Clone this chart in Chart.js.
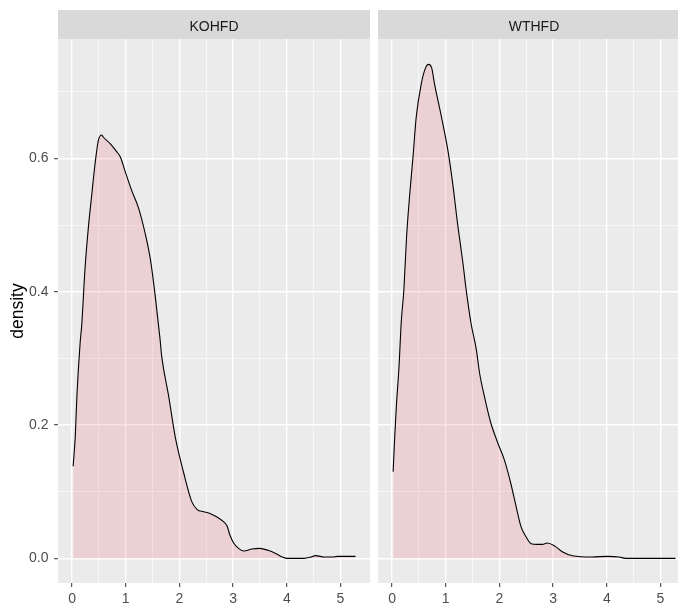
<!DOCTYPE html>
<html>
<head>
<meta charset="utf-8">
<script src="https://cdn.jsdelivr.net/npm/chart.js@4.4.1/dist/chart.umd.min.js"></script>
<style>
  html, body { margin: 0; padding: 0; background: #fff; overflow: hidden; width: 678px; height: 606px; }
  canvas { position: absolute; top: 0; }
  #koChart { left: 0; }
  #wtChart { left: 370px; }
</style>
</head>
<body>
<canvas id="koChart" width="370" height="606"></canvas>
<canvas id="wtChart" width="320" height="606"></canvas>
<script>
// facet labels
const panels = ['KOHFD', 'WTHFD'];

// KOHFD density curve
const koX = [0.02, 0.06, 0.09, 0.15, 0.18, 0.24, 0.30, 0.37, 0.43, 0.49, 0.55, 0.58, 0.71, 0.83, 0.90, 0.99,
  1.11, 1.24, 1.36, 1.46, 1.55, 1.64, 1.67, 1.80, 1.92, 2.08, 2.23, 2.33, 2.45, 2.58, 2.70, 2.82, 2.89,
  2.94, 3.01, 3.10, 3.20, 3.35, 3.50, 3.65, 3.80, 3.92, 4.01, 4.32, 4.45, 4.53, 4.62, 4.68, 4.85, 4.94, 5.28];
const koY = [0.138, 0.183, 0.243, 0.323, 0.350, 0.433, 0.493, 0.548, 0.593, 0.627, 0.635, 0.632, 0.622, 0.610, 0.602, 0.580,
  0.552, 0.525, 0.488, 0.448, 0.393, 0.328, 0.303, 0.243, 0.183, 0.128, 0.085, 0.073, 0.070, 0.067, 0.062, 0.055, 0.048,
  0.035, 0.023, 0.015, 0.011, 0.014, 0.015, 0.012, 0.007, 0.002, 0.000, 0.000, 0.002, 0.004, 0.003, 0.002, 0.002, 0.003, 0.003];

// WTHFD density curve
const wtX = [0.02, 0.05, 0.08, 0.13, 0.17, 0.22, 0.27, 0.33, 0.39, 0.45, 0.545, 0.62, 0.68, 0.74, 0.79, 0.92,
  1.04, 1.13, 1.22, 1.32, 1.38, 1.47, 1.57, 1.63, 1.72, 1.84, 1.97, 2.09, 2.21, 2.31, 2.40, 2.49, 2.59,
  2.70, 2.80, 2.89, 3.02, 3.17, 3.36, 3.73, 4.01, 4.23, 4.35, 5.28];
const wtY = [0.130, 0.183, 0.228, 0.288, 0.353, 0.403, 0.482, 0.547, 0.602, 0.662, 0.712, 0.735, 0.741, 0.735, 0.712, 0.662,
  0.612, 0.562, 0.502, 0.443, 0.403, 0.353, 0.313, 0.278, 0.243, 0.203, 0.173, 0.148, 0.113, 0.078, 0.048, 0.033, 0.022,
  0.021, 0.021, 0.023, 0.019, 0.010, 0.004, 0.002, 0.003, 0.002, 0.000, 0.000];

// axis breaks (majors labelled, minors only gridlines)
const xBreaks = [0, 0.5, 1, 1.5, 2, 2.5, 3, 3.5, 4, 4.5, 5];
const yBreaks = [0, 0.1, 0.2, 0.3, 0.4, 0.5, 0.6, 0.7];
const xLimits = [-0.262, 5.55];
const yLimits = [-0.037, 0.779];

Chart.defaults.font.family = '"Liberation Sans", Arial, sans-serif';

const isMajorX = v => Math.abs(v - Math.round(v)) < 1e-6;
const isMajorY = v => Math.round(v * 10) % 2 === 0;

// grey panel + strip background like ggplot
const panelBg = {
  id: 'panelBg',
  beforeDraw(chart) {
    const { ctx, chartArea: a } = chart;
    ctx.save();
    ctx.fillStyle = '#D9D9D9';
    ctx.fillRect(a.left, 10, a.right - a.left, a.top - 10);
    ctx.fillStyle = '#EBEBEB';
    ctx.fillRect(a.left, a.top, a.right - a.left, a.bottom - a.top);
    ctx.restore();
  }
};

function gridOpts(isMajor) {
  return {
    color: c => isMajor(c.tick.value) ? '#FFFFFF' : 'rgba(255,255,255,0.75)',
    lineWidth: c => isMajor(c.tick.value) ? 1.4 : 0.8,
    tickColor: c => isMajor(c.tick.value) ? '#333333' : 'rgba(0,0,0,0)',
    tickLength: 4,
    tickWidth: 1,
  };
}

function makePanel(canvasId, name, xs, ys, showY) {
  const points = xs.map((x, i) => ({ x, y: ys[i] }));
  return new Chart(document.getElementById(canvasId), {
    type: 'line',
    data: {
      datasets: [{
        label: name,
        data: points,
        borderColor: '#000000',
        borderWidth: 1.1,
        backgroundColor: 'rgba(240,60,80,0.15)',
        fill: 'origin',
        cubicInterpolationMode: 'monotone',
        pointRadius: 0,
      }],
    },
    plugins: [panelBg],
    options: {
      responsive: false,
      animation: false,
      devicePixelRatio: 1,
      layout: { padding: { left: showY ? 0 : 8, right: 0, top: 0, bottom: 0 } },
      plugins: {
        legend: { display: false },
        tooltip: { enabled: false },
        title: {
          display: true,
          text: name,
          fullSize: false,
          color: '#1A1A1A',
          font: { size: 14, weight: 'normal' },
          padding: { top: 18.6, bottom: 3.6 },
        },
      },
      scales: {
        x: {
          type: 'linear',
          min: xLimits[0],
          max: xLimits[1],
          afterBuildTicks: axis => { axis.ticks = xBreaks.map(v => ({ value: v })); },
          afterFit: s => { s.height = 23; },
          border: { display: false },
          grid: gridOpts(isMajorX),
          ticks: {
            color: '#4D4D4D',
            font: { size: 14 },
            padding: 4,
            maxRotation: 0,
            autoSkip: false,
            callback: v => isMajorX(v) ? String(Math.round(v)) : '',
          },
        },
        y: {
          type: 'linear',
          min: yLimits[0],
          max: yLimits[1],
          afterBuildTicks: axis => { axis.ticks = yBreaks.map(v => ({ value: v })); },
          afterFit: s => { s.width = showY ? 58 : 0; },
          border: { display: false },
          grid: Object.assign(gridOpts(isMajorY), { drawTicks: showY }),
          title: {
            display: showY,
            text: 'density',
            color: '#000000',
            font: { size: 17.5 },
            padding: { top: 7.5, bottom: 0 },
          },
          ticks: {
            display: showY,
            color: '#4D4D4D',
            font: { size: 14 },
            padding: 5.5,
            autoSkip: false,
            callback: v => isMajorY(v) ? v.toFixed(1) : '',
          },
        },
      },
    },
  });
}

makePanel('koChart', panels[0], koX, koY, true);
makePanel('wtChart', panels[1], wtX, wtY, false);
</script>
</body>
</html>
